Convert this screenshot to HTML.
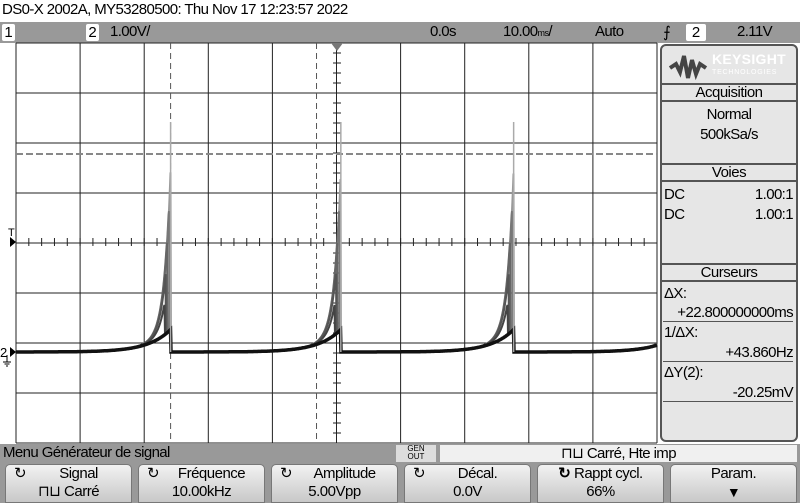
<!DOCTYPE html>
<html><head><meta charset="utf-8">
<style>
*{margin:0;padding:0;box-sizing:border-box}
body{width:800px;height:503px;overflow:hidden;background:#fff;font-family:"Liberation Sans",sans-serif;color:#000;position:relative}
.abs{position:absolute}
.t{font-size:15px;letter-spacing:-0.6px;white-space:nowrap}
.top{left:0;top:22px;width:800px;height:21px;background:#999}
.chbox{background:#fff;border-radius:2px;width:13px;height:17px;top:24px;text-align:center;font-size:15px;line-height:17px}
.panel{left:660px;top:44px;width:138px;height:398px;background:#e6e6e6;border:2px solid #555;border-radius:6px}
.hdr{position:absolute;left:0;width:134px;height:19px;border-top:2px solid #555;border-bottom:2px solid #555;text-align:center;font-size:15px;line-height:16px;letter-spacing:-0.5px}
.btn{position:absolute;top:464px;width:127px;height:39px;border-radius:5px 5px 0 0;background:linear-gradient(#f2f2f2,#c8c8c8);border:1px solid #777;text-align:center;font-size:15px;line-height:18px;letter-spacing:-0.5px}
</style></head><body>
<div class="abs t" style="left:2px;top:1px">DS0-X 2002A, MY53280500: Thu Nov 17 12:23:57 2022</div>
<div class="abs top"></div>
<div class="abs chbox" style="left:2px">1</div>
<div class="abs chbox" style="left:86px">2</div>
<div class="abs t" style="left:110px;top:23px">1.00V/</div>
<div class="abs t" style="left:430px;top:23px">0.0s</div>
<div class="abs t" style="left:503px;top:23px">10.00<span style="font-size:9px">ms</span>/</div>
<div class="abs t" style="left:595px;top:23px">Auto</div>
<div class="abs t" style="left:663px;top:23px">⨍</div>
<div class="abs chbox" style="left:686px;width:20px">2</div>
<div class="abs t" style="left:737px;top:23px">2.11V</div>

<svg class="abs" style="left:0;top:0" width="660" height="445" id="scope"></svg>

<div class="abs panel">
 <div class="abs" style="left:6px;top:4px;width:125px;height:32px;overflow:hidden">
  <svg width="40" height="30" style="position:absolute;left:0;top:2px"><path d="M2 16 L8 12 L12 20 L16 4 L20 26 L24 8 L28 22 L32 12 L38 16" stroke="#444" stroke-width="4" fill="none"/></svg>
  <div style="position:absolute;left:44px;top:1px;color:#fff;font-weight:bold;font-size:14px;letter-spacing:0.3px">KEYSIGHT</div>
  <div style="position:absolute;left:44px;top:19px;color:#fff;font-size:7px;letter-spacing:0.8px">TECHNOLOGIES</div>
 </div>
 <div class="hdr" style="top:37px">Acquisition</div>
 <div class="abs t" style="left:0;width:134px;text-align:center;top:60px">Normal</div>
 <div class="abs t" style="left:0;width:134px;text-align:center;top:80px">500kSa/s</div>
 <div class="hdr" style="top:117px">Voies</div>
 <div class="abs t" style="left:2px;top:140px">DC</div>
 <div class="abs t" style="right:3px;top:140px">1.00:1</div>
 <div class="abs t" style="left:2px;top:160px">DC</div>
 <div class="abs t" style="right:3px;top:160px">1.00:1</div>
 <div class="hdr" style="top:217px">Curseurs</div>
 <div class="abs t" style="left:2px;top:239px">ΔX:</div>
 <div class="abs t" style="right:3px;top:258px;border-bottom:1px solid #555;width:130px;text-align:right">+22.800000000ms</div>
 <div class="abs t" style="left:2px;top:278px">1/ΔX:</div>
 <div class="abs t" style="right:3px;top:298px;border-bottom:1px solid #555;width:130px;text-align:right">+43.860Hz</div>
 <div class="abs t" style="left:2px;top:318px">ΔY(2):</div>
 <div class="abs t" style="right:3px;top:338px;border-bottom:1px solid #555;width:130px;text-align:right">-20.25mV</div>
</div>

<div class="abs" style="left:0;top:444px;width:800px;height:59px;background:#999"></div>
<div class="abs t" style="left:3px;top:444px">Menu Générateur de signal</div>
<div class="abs" style="left:396px;top:445px;width:40px;height:17px;background:#ddd;font-size:8px;line-height:8px;text-align:center">GEN<br>OUT</div>
<div class="abs t" style="left:440px;top:445px;width:357px;height:17px;background:#f0f0f0;text-align:center;line-height:17px">⊓⊔ Carré, Hte imp</div>
<div class="btn" style="left:5px"><span style="float:left;margin-left:8px">↻</span>Signal<br>⊓⊔ Carré</div>
<div class="btn" style="left:138px"><span style="float:left;margin-left:8px">↻</span>Fréquence<br>10.00kHz</div>
<div class="btn" style="left:271px"><span style="float:left;margin-left:8px">↻</span>Amplitude<br>5.00Vpp</div>
<div class="btn" style="left:404px"><span style="float:left;margin-left:8px">↻</span>Décal.<br>0.0V</div>
<div class="btn" style="left:537px"><b>↻</b> Rappt cycl.<br>66%</div>
<div class="btn" style="left:670px">Param.<br><span style="font-size:14px">▼</span></div>

<script>
// chart data
const spikeTimesMs = [-26.0, 0.6, 27.6];      // spike times (ms, 0 = center)
const spikePeakV = [4.6, 4.6, 4.6];          // peak of narrow spike
const traceAmpV = [0.0, 0.6, 1.2, 1.8, 2.4, 3.2]; // persistence envelope amplitudes
const traceShiftMs = [0.0, -1.0, -0.8, -0.6, -0.3, 0.0]; // persistence time jitter
const traceGray = ['#111','#444','#555','#666','#777','#999'];
const baselineV = [0.0];
const cursorXms = [-26.0, -3.2];
const cursorYV = [3.98];
const triggerV = [2.2];

const svg = document.getElementById('scope');
const NS = 'http://www.w3.org/2000/svg';
const X0=16, X1=657, Y0=43, Y1=443, XC=337, GND=352;
const xAt = ms => XC + ms*6.4;
const yAt = v => GND - v*50;
function mk(tag, attrs){const e=document.createElementNS(NS,tag);for(const k in attrs)e.setAttribute(k,attrs[k]);svg.appendChild(e);return e;}

for(let i=0;i<=10;i++){
  const l=mk('line',{x1:X0+i*64.1,x2:X0+i*64.1,y1:Y0,y2:Y1,stroke:'#222','stroke-width':1});
  
  
}
for(let j=0;j<=8;j++){
  const l=mk('line',{x1:X0,x2:X1,y1:Y0+j*50,y2:Y0+j*50,stroke:'#222','stroke-width':1});
  
  
}
for(let i=0;i<=50;i++){const x=X0+i*12.82;mk('line',{x1:x,x2:x,y1:238,y2:246,stroke:'#222'});}
for(let j=0;j<=40;j++){const y=Y0+j*10;mk('line',{x1:333,x2:341,y1:y,y2:y,stroke:'#222'});}

cursorXms.forEach(ms=>{
  const l=mk('line',{x1:xAt(ms),x2:xAt(ms),y1:Y0,y2:Y1,stroke:'#555','stroke-dasharray':'6,4'});
  
  
});
cursorYV.forEach(v=>{
  const l=mk('line',{x1:X0,x2:X1,y1:yAt(v)+1,y2:yAt(v)+1,stroke:'#888','stroke-width':2,'stroke-dasharray':'7,3'});
  
  
});

const tm=mk('polygon',{points:`${XC-6},${Y0} ${XC+6},${Y0} ${XC},${Y0+8}`,fill:'#777'});


const tl=mk('polygon',{points:`10,${yAt(triggerV[0])-5} 16,${yAt(triggerV[0])} 10,${yAt(triggerV[0])+5}`,fill:'#000'});


const tt=mk('text',{x:8,y:yAt(triggerV[0])-6,'font-size':11,'font-family':'Liberation Sans, sans-serif'});tt.textContent='T';
const gm=mk('polygon',{points:`10,${GND-5} 16,${GND} 10,${GND+5}`,fill:'#000'});


const gt=mk('text',{x:0,y:GND+5,'font-size':13,'font-family':'Liberation Sans, sans-serif'});gt.textContent='2';
mk('path',{d:`M7 ${GND+3} V${GND+10} M3 ${GND+10} H11 M4.5 ${GND+12} H9.5 M6 ${GND+14} H8`,stroke:'#000',fill:'none'});

function traceV(ms, amp, shift){
  let ts=null;
  for(const s of spikeTimesMs){ if(s>=ms){ts=s;break;} }
  if(ts===null) ts = spikeTimesMs[spikeTimesMs.length-1] + (spikeTimesMs[1]-spikeTimesMs[0]);
  const dt = ts - ms;
  const dts = dt + shift;
  const fast = dts>=-0.05 ? amp*Math.exp(-Math.max(dts,0)/0.9) : 0;
  return baselineV[0] + 0.45*Math.exp(-dt/3.5) + fast;
}
traceAmpV.slice().reverse().forEach((amp,ri)=>{
  const idx=traceAmpV.length-1-ri;
  let d='';
  for(let x=X0;x<=X1;x+=0.5){
    const ms=(x-XC)/6.4;
    const v=traceV(ms,amp,traceShiftMs[idx]);
    d+=(d?'L':'M')+x+','+yAt(v).toFixed(1);
  }
  const p=mk('path',{d:d,stroke:traceGray[idx],'stroke-width':idx===0?3.5:2,fill:'none'});
  
  
});
spikeTimesMs.forEach((s,i)=>{
  const l=mk('line',{x1:xAt(s),x2:xAt(s),y1:yAt(spikePeakV[i]),y2:GND,stroke:'#aaa','stroke-width':1.5});
  
  
});
</script>
</body></html>
